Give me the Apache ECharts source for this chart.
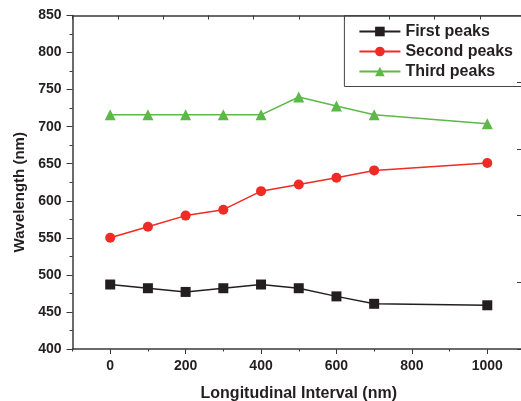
<!DOCTYPE html>
<html>
<head>
<meta charset="utf-8">
<script src="https://cdn.jsdelivr.net/npm/echarts@6/dist/echarts.min.js"></script>
<style>
  html, body { margin: 0; padding: 0; background: #fff; }
  #peakChart { width: 521px; height: 401px; }
</style>
</head>
<body>
<div id="peakChart"></div>
<script>
// 数据：横轴为纵向间距 (nm)，纵轴为波长 (nm)
const intervals = [0, 100, 200, 300, 400, 500, 600, 700, 1000]
const firstPeaks = [487, 482, 477, 482, 487, 482, 471, 461, 459]
const secondPeaks = [550, 565, 580, 588, 613, 622, 631, 641, 651]
const thirdPeaks = [716, 716, 716, 716, 716, 740, 728, 716, 704]
const xLabelValues = [0, 200, 400, 600, 800, 1000]
const xMinorValues = [-100, 100, 300, 500, 700, 900, 1100]

const chart = echarts.init(document.getElementById('peakChart'))
const axisColor = '#3a3a3a'
const textColor = '#231f20'
const fontFamily = 'Liberation Sans, Arial, sans-serif'

const pairs = (ys) => intervals.map((x, i) => [x, ys[i]])

const option = {
  backgroundColor: '#fff',
  animation: false,
  textStyle: { fontFamily: fontFamily },
  legend: {
    orient: 'vertical',
    right: -6,
    top: 15.5,
    padding: [8, 14, 7, 14],
    itemWidth: 41,
    itemHeight: 12,
    itemGap: 4,
    borderColor: '#444',
    borderWidth: 1,
    textStyle: { fontSize: 16, fontWeight: 'bold', color: textColor },
    data: ['First peaks', 'Second peaks', 'Third peaks']
  },
  grid: { left: 72.5, width: 452.5, top: 15.5, bottom: 52, outerBoundsMode: 'none' },
  xAxis: [{
    type: 'value',
    min: -100,
    max: 1100,
    interval: 100,
    position: 'bottom',
    name: 'Longitudinal Interval (nm)',
    nameLocation: 'middle',
    nameGap: 37,
    nameTextStyle: { fontSize: 16, fontWeight: 'bold', color: textColor },
    axisLine: { show: true, onZero: false, lineStyle: { color: axisColor, width: 1.5 } },
    axisTick: { show: true, length: 5, customValues: xLabelValues, lineStyle: { color: axisColor, width: 1 } },
    axisLabel: {
      show: true,
      customValues: xLabelValues,
      margin: 10,
      fontSize: 14,
      fontWeight: 'bold',
      color: textColor,
      formatter: function (v) { return String(v) }
    },
    splitLine: { show: false }
  }, {
    // 次刻度
    type: 'value',
    min: -100,
    max: 1100,
    position: 'bottom',
    axisLine: { show: false, onZero: false },
    axisTick: { show: true, length: 2.5, customValues: xMinorValues, lineStyle: { color: axisColor, width: 1 } },
    axisLabel: { show: false },
    splitLine: { show: false }
  }, {
    // 上边框
    type: 'value',
    min: 0,
    max: 10,
    interval: 1,
    position: 'top',
    axisLine: { show: true, onZero: false, lineStyle: { color: axisColor, width: 1.5 } },
    axisTick: { show: true, inside: true, length: 4, lineStyle: { color: axisColor, width: 1 } },
    axisLabel: { show: false },
    splitLine: { show: false }
  }],
  yAxis: [{
    type: 'value',
    min: 400,
    max: 850,
    interval: 50,
    position: 'left',
    name: 'Wavelength (nm)',
    nameLocation: 'middle',
    nameGap: 44,
    nameTextStyle: { fontSize: 15, fontWeight: 'bold', color: textColor, padding: [0, 20, 0, 0] },
    axisLine: { show: true, onZero: false, lineStyle: { color: axisColor, width: 1.5 } },
    axisTick: { show: true, length: 6, lineStyle: { color: axisColor, width: 1 } },
    minorTick: { show: true, splitNumber: 2, length: 3, lineStyle: { color: axisColor, width: 1 } },
    axisLabel: { margin: 11, fontSize: 14, fontWeight: 'bold', color: textColor },
    splitLine: { show: false }
  }, {
    // 右边框
    type: 'value',
    min: 0,
    max: 5,
    interval: 1,
    position: 'right',
    axisLine: { show: true, onZero: false, lineStyle: { color: axisColor, width: 1.5 } },
    axisTick: { show: true, inside: true, length: 8, lineStyle: { color: axisColor, width: 1 } },
    axisLabel: { show: false },
    splitLine: { show: false }
  }],
  series: [{
    name: 'First peaks',
    type: 'line',
    data: pairs(firstPeaks),
    symbol: 'rect',
    symbolSize: 10,
    lineStyle: { color: '#231f20', width: 1.5 },
    itemStyle: { color: '#231f20' }
  }, {
    name: 'Second peaks',
    type: 'line',
    data: pairs(secondPeaks),
    symbol: 'circle',
    symbolSize: 10,
    lineStyle: { color: '#ee2b25', width: 1.5 },
    itemStyle: { color: '#ee2b25' }
  }, {
    name: 'Third peaks',
    type: 'line',
    data: pairs(thirdPeaks),
    symbol: 'triangle',
    symbolSize: 11,
    lineStyle: { color: '#5cb947', width: 1.5 },
    itemStyle: { color: '#5cb947' }
  }]
}

chart.setOption(option)
</script>
</body>
</html>
